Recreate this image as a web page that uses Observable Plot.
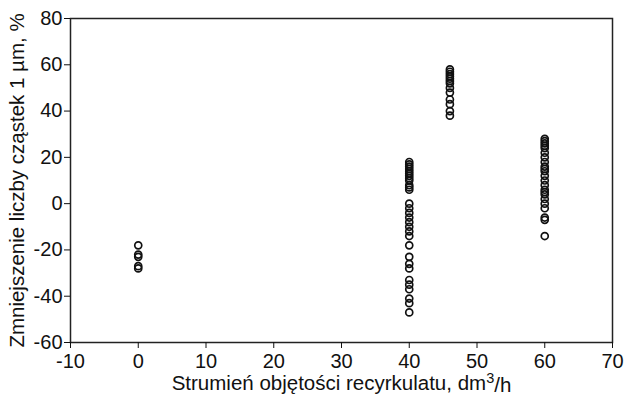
<!DOCTYPE html>
<html>
<head>
<meta charset="utf-8">
<script src="https://cdn.jsdelivr.net/npm/d3@7"></script>
<script src="https://cdn.jsdelivr.net/npm/@observablehq/plot@0.6"></script>
<style>
  html, body { margin: 0; padding: 0; background: #fff; }
  svg { font-family: "Liberation Sans", Arial, sans-serif !important; }
  svg text { font-size: 20px !important; }
  g[aria-label="y-axis label"] text { font-size: 20.5px !important; }
  g[aria-label="x-axis label"] text { font-size: 20.5px !important; }
  g[aria-label="x-axis label"] tspan.sup { font-size: 14.5px !important; }
</style>
</head>
<body>
<div id="chart"></div>
<script>
const xTicks = [-10, 0, 10, 20, 30, 40, 50, 60, 70];
const yTicks = [-60, -40, -20, 0, 20, 40, 60, 80];
const xLabel = "Strumień objętości recyrkulatu, dm3/h";
const yLabel = "Zmniejszenie liczby cząstek 1 µm, %";

const flow0 = [-18, -22, -23, -27, -28];
const flow40 = [18, 17, 16, 15, 14, 13, 12, 11, 10, 8, 7, 6, 0, -2, -4, -6, -8, -10, -12, -14, -18, -23, -26, -28, -33, -35, -37, -41, -43, -47];
const flow46 = [58, 57, 56, 55, 54, 53, 52, 50, 48, 45, 43, 40, 38];
const flow60 = [28, 27, 26, 25, 24, 22, 20, 18, 16, 15, 14, 12, 10, 8, 6, 5, 4, 2, 0, -2, -6, -7, -14];

const data = [
  ...flow0.map(v => ({x: 0, y: v})),
  ...flow40.map(v => ({x: 40, y: v})),
  ...flow46.map(v => ({x: 46, y: v})),
  ...flow60.map(v => ({x: 60, y: v}))
];

const chart = Plot.plot({
  width: 627,
  height: 396,
  marginLeft: 70,
  marginRight: 15,
  marginTop: 18,
  marginBottom: 54,
  style: {fontFamily: "Liberation Sans, Arial, sans-serif", color: "#111", background: "#fff"},
  x: {domain: [-10, 70]},
  y: {domain: [-60, 80]},
  marks: [
    Plot.frame({stroke: "#222", strokeWidth: 1.5}),
    Plot.axisX({ticks: xTicks, tickFormat: d => String(d), tickSize: 6, tickPadding: 5, label: xLabel, labelAnchor: "center", labelArrow: "none", labelOffset: 47}),
    Plot.axisY({ticks: yTicks, tickFormat: d => String(d), tickSize: 6, tickPadding: 2, label: yLabel, labelAnchor: "center", labelArrow: "none", labelOffset: 61}),
    Plot.dot(data, {x: "x", y: "y", r: 3.5, stroke: "#111", strokeWidth: 1.7, fill: "none"})
  ]
});
document.getElementById("chart").appendChild(chart);

// superscript "3" in the x-axis label
const xl = chart.querySelector('g[aria-label="x-axis label"] text');
if (xl) {
  const t = xl.textContent;
  const i = t.lastIndexOf("3/h");
  if (i > 0) {
    const ns = "http://www.w3.org/2000/svg";
    xl.textContent = t.slice(0, i);
    const s = document.createElementNS(ns, "tspan");
    s.setAttribute("class", "sup");
    s.setAttribute("dy", "-0.45em");
    s.textContent = "3";
    const r = document.createElementNS(ns, "tspan");
    r.setAttribute("dy", "0.45em");
    r.textContent = "/h";
    xl.appendChild(s);
    xl.appendChild(r);
  }
}
</script>
</body>
</html>
